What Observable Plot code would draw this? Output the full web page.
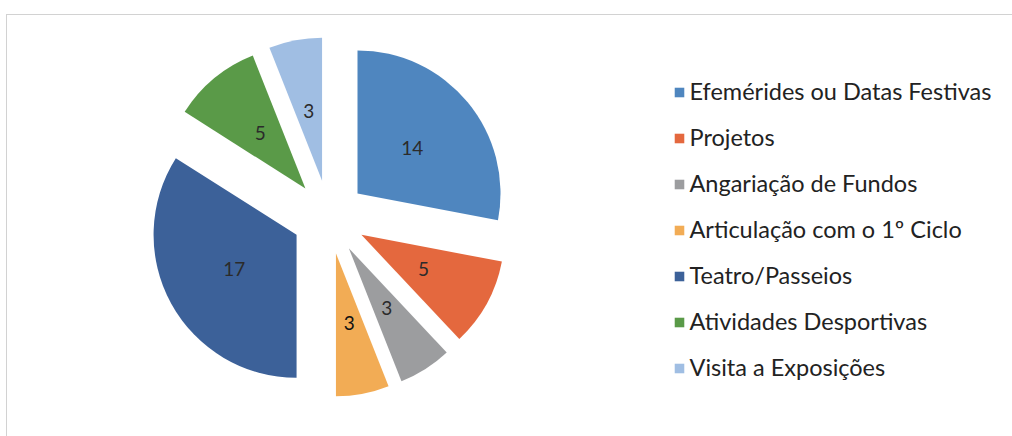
<!DOCTYPE html>
<html>
<head>
<meta charset="utf-8">
<script src="https://cdn.jsdelivr.net/npm/d3@7"></script>
<script src="https://cdn.jsdelivr.net/npm/@observablehq/plot@0.6"></script>
<style>
  body { margin: 0; background: #ffffff; }
  #wrap { position: relative; width: 1012px; height: 436px; overflow: hidden; }
  #frame { position: absolute; left: 6px; top: 14px; right: -2px; bottom: -2px;
           border-top: 1.5px solid #d2d2d2; border-left: 1.5px solid #d2d2d2; pointer-events: none; }
</style>
</head>
<body>
<div id="wrap"><div id="frame"></div></div>
<script>
// ---- data ----
const categories = [
  "Efemérides ou Datas Festivas",
  "Projetos",
  "Angariação de Fundos",
  "Articulação com o 1º Ciclo",
  "Teatro/Passeios",
  "Atividades Desportivas",
  "Visita a Exposições"
];
const values = [14, 5, 3, 3, 17, 5, 3];
const colors = ["#4f86bf", "#e4683e", "#9c9d9f", "#f2ac55", "#3c6199", "#5a9a48", "#a0bee3"];

const data = categories.map((c, i) => ({category: c, value: values[i]}));

// ---- layout (positions / sizes) ----
const layout = {cx: 329, cy: 217, r: 143, explode: 37, labelR: 71};

const arcs = d3.pie().sort(null).value(d => d.value)(data);

function pieMark(index, scales) {
  const color = (scales && scales.color) ? scales.color : d3.scaleOrdinal(categories, colors);
  const g = d3.create("svg:g");
  const arc = d3.arc().innerRadius(0).outerRadius(layout.r);
  const slices = g.selectAll("g").data(arcs).join("g")
    .attr("transform", d => {
      const m = (d.startAngle + d.endAngle) / 2;
      return `translate(${layout.cx + Math.sin(m) * layout.explode},${layout.cy - Math.cos(m) * layout.explode})`;
    });
  slices.append("path")
    .attr("d", arc)
    .attr("fill", d => color(d.data.category));
  slices.append("text")
    .attr("x", d => Math.sin((d.startAngle + d.endAngle) / 2) * layout.labelR)
    .attr("y", d => -Math.cos((d.startAngle + d.endAngle) / 2) * layout.labelR)
    .attr("dy", "0.35em")
    .attr("text-anchor", "middle")
    .attr("font-size", 19)
    .attr("fill", d => d.data.category === "Articulação com o 1º Ciclo" ? "#111" : "#2b2b2b")
    .text(d => d.data.value);
  return g.node();
}

const chart = Plot.plot({
  width: 1012,
  height: 436,
  margin: 0,
  style: {fontFamily: "Lato, 'Open Sans', sans-serif", background: "transparent"},
  y: {type: "point", domain: categories, range: [91, 368], padding: 0, axis: null},
  color: {domain: categories, range: colors},
  marks: [
    pieMark,
    Plot.dot(data, {y: "category", fill: "category", symbol: "square", r: 5.4, frameAnchor: "left", dx: 679}),
    Plot.text(data, {y: "category", text: "category", frameAnchor: "left", dx: 689, textAnchor: "start",
                     fontSize: 23.5, fill: "#222"})
  ]
});
document.getElementById("wrap").prepend(chart);
</script>
</body>
</html>
